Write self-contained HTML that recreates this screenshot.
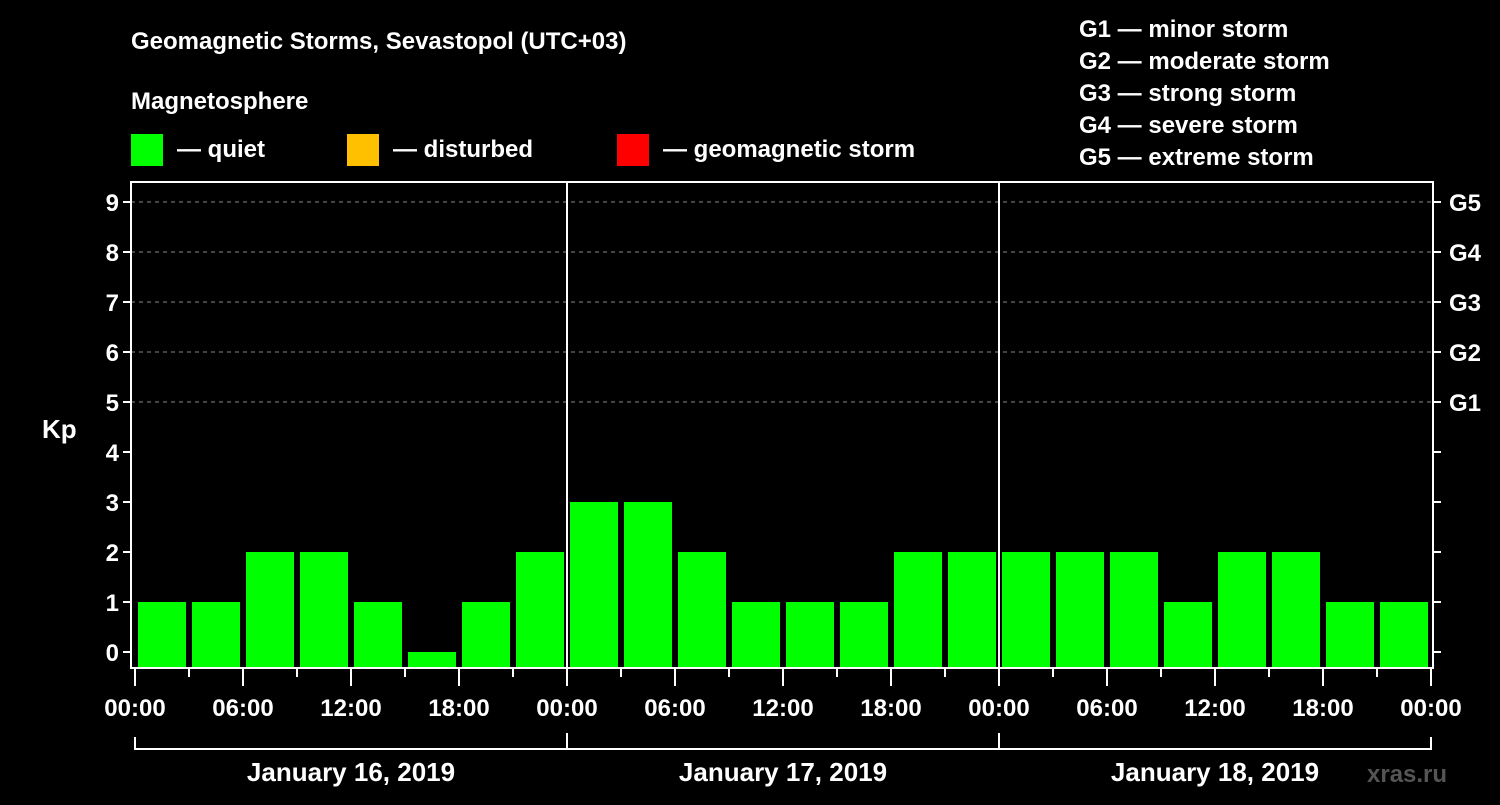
<!DOCTYPE html>
<html><head><meta charset="utf-8"><style>
body{margin:0;background:#000;width:1500px;height:800px;overflow:hidden}
svg text{font-family:"Liberation Sans",Arial,sans-serif;font-weight:bold;fill:#fff}
</style></head><body>
<svg width="1500" height="800" xmlns="http://www.w3.org/2000/svg">
<text x="131" y="49" font-size="24">Geomagnetic Storms, Sevastopol (UTC+03)</text>
<text x="131" y="109" font-size="24">Magnetosphere</text>
<g><rect x="131" y="134" width="32" height="32" fill="#00ff00"/><text x="177" y="157" font-size="24">— quiet</text></g>
<g><rect x="347" y="134" width="32" height="32" fill="#ffc000"/><text x="393" y="157" font-size="24">— disturbed</text></g>
<g><rect x="617" y="134" width="32" height="32" fill="#ff0000"/><text x="663" y="157" font-size="24">— geomagnetic storm</text></g>
<g font-size="24">
<text x="1079" y="37">G1 — minor storm</text><text x="1079" y="69">G2 — moderate storm</text><text x="1079" y="101">G3 — strong storm</text><text x="1079" y="133">G4 — severe storm</text><text x="1079" y="165">G5 — extreme storm</text></g>
<text x="42" y="438" font-size="26">Kp</text>
<text x="1367" y="782" font-size="24" fill="#555" style="fill:#555">xras.ru</text>
<g id="plot"></g>
</svg>
<script>
const kpValues=[1,1,2,2,1,0,1,2, 3,3,2,1,1,1,2,2, 2,2,2,1,2,2,1,1];
const dayLabels=["January 16, 2019","January 17, 2019","January 18, 2019"];
const timeLabels=["00:00","06:00","12:00","18:00"];
const yTicks=[0,1,2,3,4,5,6,7,8,9];
const gLabels=["G1","G2","G3","G4","G5"];
const NS="http://www.w3.org/2000/svg";
const g=document.getElementById('plot');
const X0=135,DAYW=432,L=131,R=1433,T=182,B=668;
const xs=h=>X0+h/24*DAYW;
const ys=v=>652-50*v;
function mk(t,a){const e=document.createElementNS(NS,t);for(const k in a)e.setAttribute(k,a[k]);g.appendChild(e);return e;}
// grid
yTicks.forEach(v=>{
 if(v>=5){const l=mk('line',{x1:L,x2:R,y1:ys(v),y2:ys(v),stroke:'#888','stroke-dasharray':'4,4','stroke-width':1});
 
 }
 const tl=mk('line',{x1:L-8,x2:L,y1:ys(v),y2:ys(v),stroke:'#fff','stroke-width':2});
 
 
 const tr=mk('line',{x1:R,x2:R+8,y1:ys(v),y2:ys(v),stroke:'#fff','stroke-width':2});
 
 
 const t=mk('text',{x:L-12,y:ys(v)+9,'font-size':24,'text-anchor':'end'});t.textContent=v;
 
 
});
gLabels.forEach((s,i)=>{const t=mk('text',{x:1449,y:ys(5+i)+9,'font-size':24});t.textContent=s;
 
 });
// bars
kpValues.forEach((v,i)=>{const x=xs(i*3);
 const r=mk('rect',{x:x+3,y:ys(v),width:48,height:Math.max(0,B-1-ys(v)),fill:'#00ff00'});
 
 });
// frame
const f=mk('rect',{x:L,y:T,width:R-L,height:B-T,fill:'none',stroke:'#fff','stroke-width':2});


for(let d=1;d<3;d++){const l=mk('line',{x1:xs(d*24),x2:xs(d*24),y1:T,y2:B,stroke:'#fff','stroke-width':2});
 
 }
// x ticks
for(let h=0;h<=72;h+=3){const major=h%6==0;
 const l=mk('line',{x1:xs(h),x2:xs(h),y1:B,y2:B+(major?18:9),stroke:'#fff','stroke-width':2});
 
 
 if(major){const t=mk('text',{x:xs(h),y:716,'font-size':24,'text-anchor':'middle'});t.textContent=timeLabels[(h/6)%4];
 
 }}
// day bracket
const br=mk('line',{x1:xs(0),x2:xs(72),y1:749,y2:749,stroke:'#fff','stroke-width':2});


for(let d=0;d<=3;d++){const l=mk('line',{x1:xs(d*24),x2:xs(d*24),y1:(d==0||d==3)?737:733,y2:750,stroke:'#fff','stroke-width':2});
 
 }
dayLabels.forEach((s,d)=>{const t=mk('text',{x:xs(d*24+12),y:781,'font-size':26,'text-anchor':'middle'});t.textContent=s;
 
 });
</script>
</body></html>
